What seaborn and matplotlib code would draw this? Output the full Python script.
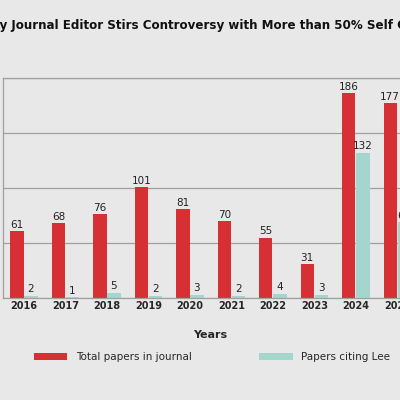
import matplotlib
matplotlib.use("Agg")
import matplotlib.pyplot as plt
import seaborn as sns
import pandas as pd
import numpy as np

years = ["2016","2017","2018","2019","2020","2021","2022","2023","2024","2025"]
total = [61, 68, 76, 101, 81, 70, 55, 31, 186, 177]
citing = [2, 1, 5, 2, 3, 2, 4, 3, 132, 69]
series = ["Total papers in journal", "Papers citing Lee"]

df = pd.DataFrame({"Year": years * 2,
                   "Count": total + citing,
                   "Series": [series[0]] * len(years) + [series[1]] * len(years)})

sns.set_theme(style="whitegrid")
plt.rcParams['font.family'] = ['DejaVu Sans']
bg = "#e8e8e8"
fig = plt.figure(figsize=(4, 4), dpi=100, facecolor=bg)
ax = fig.add_axes([3/400, 102/400, 415/400, 220/400])
ax.set_facecolor(bg)
sns.barplot(data=df, x="Year", y="Count", hue="Series", palette=["#d62f34", "#a5d6ce"],
            saturation=1, width=0.68, gap=0.05, ax=ax, legend=True,
            edgecolor="none", linewidth=0)
ax.set_ylim(0, 200)
ax.set_xlim(-0.506, 9.5)
ax.set_yticks([0, 50, 100, 150, 200])
ax.set_yticklabels([])
ax.tick_params(axis='y', length=0)
ax.tick_params(axis='x', length=0, labelsize=7, pad=2)
for l in ax.get_xticklabels():
    l.set_fontweight('bold')
ax.grid(axis='y', color="#a0a0a0", linewidth=0.9)
ax.grid(axis='x', visible=False)
for s in ax.spines.values():
    s.set_color("#a0a0a0")
    s.set_linewidth(0.9)
for c in ax.containers:
    ax.bar_label(c, fontsize=7.5, padding=1, color="#222222")
ax.set_xlabel("Years", fontsize=8, fontweight='bold', labelpad=14)
ax.set_ylabel("")
h, lab = ax.get_legend_handles_labels()
ax.get_legend().remove()
fig.legend(h, lab, loc='center', bbox_to_anchor=(0.53, 0.107), ncol=2, frameon=False,
           fontsize=7.5, handlelength=3.2, handleheight=0.6, columnspacing=6.5)
fig.text(-0.075, 0.935, "Wiley Journal Editor Stirs Controversy with More than 50% Self Citations",
         fontsize=8.6, fontweight='bold', ha='left', va='center', color="#111111")
fig.savefig("out.png", dpi=100, facecolor=bg)
